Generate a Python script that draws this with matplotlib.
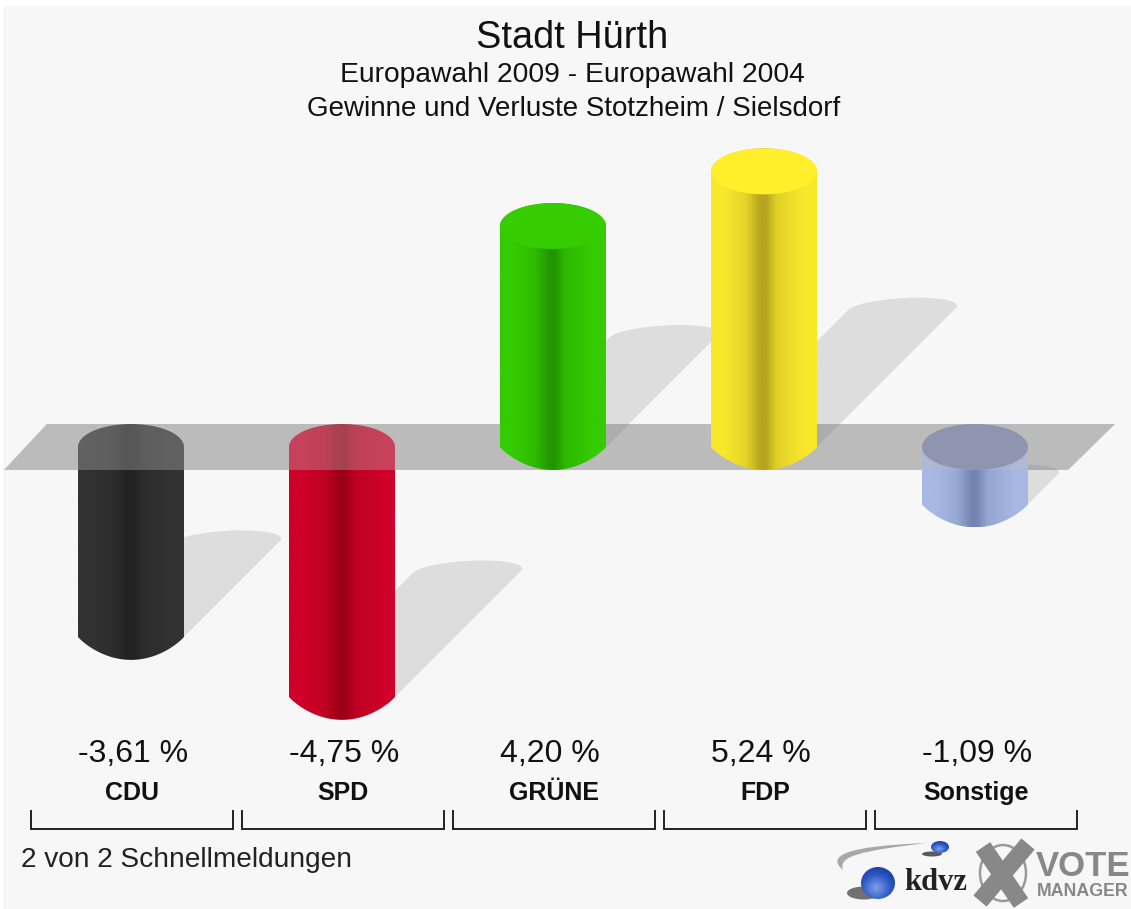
import matplotlib
matplotlib.use('Agg')
import matplotlib.pyplot as plt
import numpy as np
from matplotlib.colors import LinearSegmentedColormap, to_rgb
from matplotlib.patches import Ellipse, PathPatch, Polygon, Rectangle
from matplotlib.path import Path
from matplotlib.transforms import Affine2D

categories = ['CDU', 'SPD', 'GRÜNE', 'FDP', 'Sonstige']
values = [-3.61, -4.75, 4.20, 5.24, -1.09]
value_labels = ['-3,61 %', '-4,75 %', '4,20 %', '5,24 %', '-1,09 %']
edge_colors = ['#323232', '#cf0029', '#35cb00', '#f8e82c', '#a8b8e4']
mid_colors = ['#222222', '#9c0018', '#229600', '#b5a41f', '#7484b0']
cap_colors = [None, None, '#35cc00', '#ffee2a', '#7881ab']

W, H = 1131, 909
PX_X = 211.0     # pixels per category
PX_Y = 52.6      # pixels per percent
X0, Y0 = 131, 447
RX = 53 / PX_X
RY = 23 / PX_Y
SHADOW_RY = 11.5 / PX_Y

plt.rcParams['font.family'] = ['Liberation Sans', 'DejaVu Sans']

fig = plt.figure(figsize=(W / 100, H / 100), dpi=100, facecolor='white')
ax = fig.add_axes([0, 0, 1, 1])
ax.axis('off')
# pixel coordinates of the picture, y going down
pix = Affine2D().scale(1, -1).translate(0, H)


def arc(cx, cy, ry, a, b):
    t = np.radians(np.linspace(a, b, 60))
    return np.column_stack([cx + RX * np.cos(t), cy + ry * np.sin(t)])


def bar_path(i, v):
    low, high = min(v, 0), max(v, 0)
    u = np.linspace(-1, 1, 80)
    bottom = np.column_stack([i + RX * u, low - RY * (1 - u ** 2) ** 0.9])
    pts = np.vstack([arc(i, high, RY, 0, 180), bottom])
    return Path(np.vstack([pts, pts[:1]]), closed=True)


def shadow_points(i, v):
    base = min(v, 0)
    end = base + abs(v) / 2
    dx = abs(v) / 2 * PX_Y / PX_X
    start = np.array([[i - RX, base], [i + RX, base]])
    cap = arc(i + dx, end, SHADOW_RY, 180, 0)
    # the end of the shadow leans to the right
    cap[:, 0] += (cap[:, 1] - end) / SHADOW_RY * 16 / PX_X
    return np.vstack([start[:1], cap, start[1:]])


def blend(a, b, f):
    return tuple((1 - f) * x + f * y for x, y in zip(to_rgb(a), to_rgb(b)))


ax.add_patch(Rectangle((3, 6), W, H, transform=pix, fc='#f7f7f7', ec='none', zorder=0))

plane = [(4, 470), (47, 424), (1115, 424), (1068, 470)]
ax.add_patch(Polygon(plane, transform=pix, fc='#bbbbbb', ec='none', zorder=1))

for i, v in enumerate(values):
    ax.add_patch(Polygon(shadow_points(i, v), fc='black', alpha=0.1, ec='none', zorder=2))

grad = np.linspace(0, 1, 256).reshape(1, -1)
for i, v in enumerate(values):
    z = 3 if v < 0 else 6
    e, m = edge_colors[i], mid_colors[i]
    cmap = LinearSegmentedColormap.from_list(
        f'bar{i}', [(0, e), (0.12, e), (0.33, blend(e, m, 0.3)), (0.47, m), (0.52, m),
                    (0.62, blend(e, m, 0.35)), (0.88, e), (1, e)])
    low, high = min(v, 0), max(v, 0)
    im = ax.imshow(grad, extent=(i - RX, i + RX, low - RY, high + RY), cmap=cmap,
                   aspect='auto', interpolation='bilinear', zorder=z)
    clip = PathPatch(bar_path(i, v), transform=ax.transData, fc='none', ec='none')
    ax.add_patch(clip)
    im.set_clip_path(clip)
    if cap_colors[i]:
        ax.add_patch(Ellipse((i, high), 2 * RX, 2 * RY, fc=cap_colors[i], ec='none', zorder=z + 0.5))

# the plane lies over the tops of the negative bars
ax.add_patch(Polygon(plane, transform=pix, fc='#bbbbbb', alpha=0.35, ec='none', zorder=5))

title_kw = dict(transform=pix, ha='center', va='center', color='#111111', zorder=10)
ax.text(572, 38, 'Stadt Hürth', fontsize=27.3, **title_kw)
ax.text(572, 75, 'Europawahl 2009 - Europawahl 2004', fontsize=20.3, **title_kw)
ax.text(574, 109, 'Gewinne und Verluste Stotzheim / Sielsdorf', fontsize=20, **title_kw)

for i, (cat, lab) in enumerate(zip(categories, value_labels)):
    left = X0 + i * PX_X - 53
    ax.text(left, 754, lab, transform=pix, ha='left', va='center', fontsize=23,
            color='#111111', zorder=10)
    ax.text(X0 + 1 + i * PX_X, 793, cat, transform=pix, ha='center', va='center',
            fontsize=18, fontweight='bold', color='#111111', zorder=10)
    bx = 31 + i * PX_X
    ax.plot([bx, bx, bx + 202, bx + 202], [811, 829, 829, 811], transform=pix,
            color='#222222', lw=1.4, zorder=10, solid_joinstyle='miter')

ax.text(21, 860, '2 von 2 Schnellmeldungen', transform=pix, ha='left', va='center',
        fontsize=20.2, color='#222222', zorder=10)

# kdvz logo
swoosh = Path([(843, 870), (826, 856), (845, 846), (927, 843), (860, 851), (838, 856), (843, 870)],
              [Path.MOVETO, Path.CURVE4, Path.CURVE4, Path.CURVE4, Path.CURVE4, Path.CURVE4, Path.CURVE4])
ax.add_patch(PathPatch(swoosh, transform=pix, fc='#a8a8a8', ec='none', zorder=10))
ax.add_patch(Ellipse((864, 893), 34, 13, transform=pix, fc='#444444', ec='none', alpha=0.75, zorder=10))
ax.add_patch(Ellipse((932, 854), 20, 5, transform=pix, fc='#333333', ec='none', alpha=0.8, zorder=10))
ball_map = LinearSegmentedColormap.from_list('ball', ['#7f9fe6', '#2b57c4', '#0f2f86'])
yy, xx = np.mgrid[-1:1:64j, -1:1:64j]
ball = np.hypot(xx + 0.1, yy - 0.3)
for (cx, cy, rx, ry) in [(878, 883, 17, 16), (940, 847, 9, 6)]:
    im = ax.imshow(ball, cmap=ball_map, extent=(cx - rx, cx + rx, cy - ry, cy + ry), origin='lower',
                   transform=pix, aspect='auto', zorder=11)
    c = Ellipse((cx, cy), 2 * rx, 2 * ry, transform=pix, fc='none', ec='none')
    ax.add_patch(c)
    im.set_clip_path(c)
ax.text(936, 882, 'kdvz', transform=pix, ha='center', va='center', family=['Liberation Serif', 'DejaVu Serif'],
        fontsize=22, fontweight='bold', color='#222222', zorder=11)

# vote manager logo
ax.add_patch(Ellipse((1003, 873), 46, 56, transform=pix, fc='none', ec='#999999', lw=1.8, zorder=10))
ax.plot([983, 1021], [847, 903], transform=pix, color='#888888', lw=12.5, solid_capstyle='butt', zorder=11)
ax.plot([1028, 980], [844, 901], transform=pix, color='#888888', lw=12.5, solid_capstyle='butt', zorder=11)
ax.text(1036, 866, 'VOTE', transform=pix, ha='left', va='center', fontsize=25, fontweight='bold',
        color='#888888', zorder=11)
ax.text(1037, 891, 'MANAGER', transform=pix, ha='left', va='center', fontsize=12.8, fontweight='bold',
        color='#888888', zorder=11)

ax.set_xlim(-X0 / PX_X, (W - X0) / PX_X)
ax.set_ylim((Y0 - H) / PX_Y, Y0 / PX_Y)
fig.savefig('out.png', dpi=100, facecolor='white')
